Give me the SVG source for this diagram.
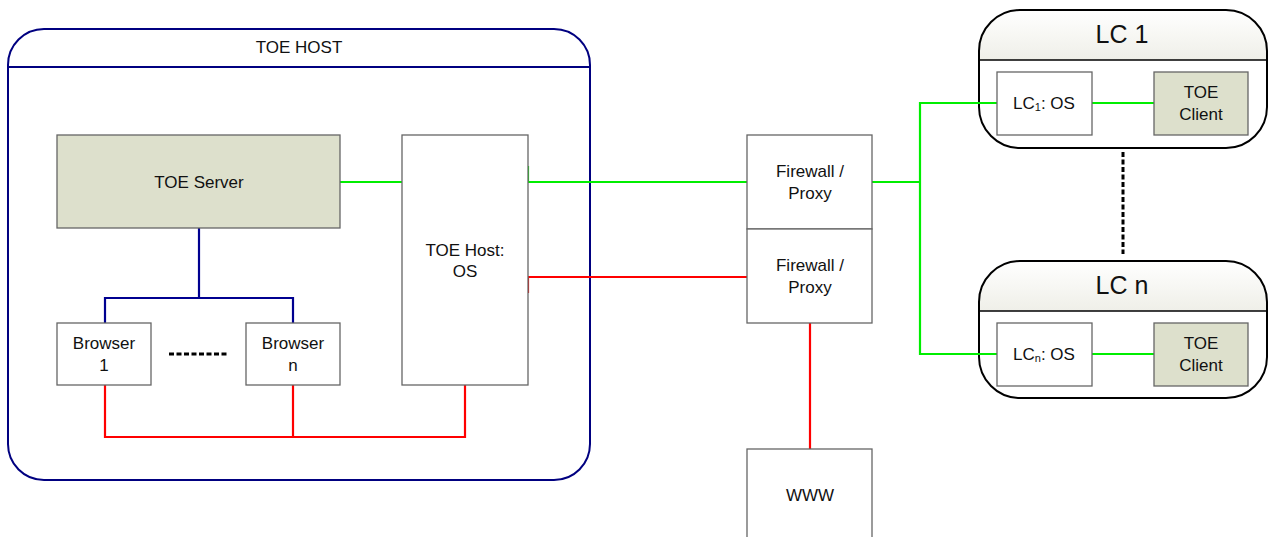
<svg xmlns="http://www.w3.org/2000/svg" width="1268" height="537" viewBox="0 0 1268 537">
<defs>
<style>
text{font-family:"Liberation Sans",Arial,sans-serif;fill:#111;text-anchor:middle;dominant-baseline:central}
.t{font-size:17px}
.big{font-size:25px}
.box{fill:#fff;stroke:#666;stroke-width:1.3}
.olive{fill:#dde0cc;stroke:#666;stroke-width:1.3}
.g{stroke:#00ee00;stroke-width:2.2;fill:none}
.r{stroke:#ff0000;stroke-width:2.2;fill:none}
.b{stroke:#000090;stroke-width:2.2;fill:none}
</style>
<linearGradient id="hdr" x1="0" y1="0" x2="0" y2="1">
<stop offset="0" stop-color="#ffffff"/>
<stop offset="1" stop-color="#efefe8"/>
</linearGradient>
</defs>
<rect width="1268" height="537" fill="#fff"/>

<g id="toe-host">
<rect x="8" y="29" width="582" height="451" rx="36" ry="36" fill="#fff" stroke="#000080" stroke-width="2"/>
<line x1="8" y1="67" x2="590" y2="67" stroke="#000080" stroke-width="2"/>
<text class="t" x="299" y="47">TOE HOST</text>
</g>

<g id="lc1">
<path d="M1020,10 H1226 A41,41 0 0 1 1267,51 V60 H979 V51 A41,41 0 0 1 1020,10 Z" fill="url(#hdr)"/>
<rect x="979" y="10" width="288" height="138" rx="41" ry="41" fill="none" stroke="#000" stroke-width="2"/>
<line x1="979" y1="60" x2="1267" y2="60" stroke="#000" stroke-width="1.5"/>
<text class="big" x="1122" y="34">LC 1</text>
</g>

<g id="lcn">
<path d="M1020,261 H1226 A41,41 0 0 1 1267,302 V311 H979 V302 A41,41 0 0 1 1020,261 Z" fill="url(#hdr)"/>
<rect x="979" y="261" width="288" height="137" rx="41" ry="41" fill="none" stroke="#000" stroke-width="2"/>
<line x1="979" y1="311" x2="1267" y2="311" stroke="#000" stroke-width="1.5"/>
<text class="big" x="1122" y="285">LC n</text>
</g>

<g id="connectors">
<line class="g" x1="340" y1="182" x2="402" y2="182"/>
<polyline class="g" points="528,166 528,182 747,182"/>
<polyline class="r" points="528,293 528,277 747,277"/>
<line class="b" x1="199" y1="228" x2="199" y2="298"/>
<polyline class="b" points="105,323 105,298 293,298 293,323"/>
<polyline class="r" points="105,385 105,437 465,437 465,385"/>
<line class="r" x1="293" y1="385" x2="293" y2="437"/>
<line class="r" x1="810" y1="323" x2="810" y2="449"/>
<line class="g" x1="872" y1="182" x2="920" y2="182"/>
<polyline class="g" points="998,103 920,103 920,354 998,354"/>
<line class="g" x1="1092" y1="103" x2="1154" y2="103"/>
<line class="g" x1="1092" y1="354" x2="1154" y2="354"/>
<line x1="169" y1="354" x2="228" y2="354" stroke="#000" stroke-width="3" stroke-dasharray="5,2.5"/>
<line x1="1123" y1="152" x2="1123" y2="254" stroke="#000" stroke-width="3" stroke-dasharray="5,2.5"/>
</g>

<g id="toe-server">
<rect class="olive" x="57" y="135" width="283" height="93"/>
<text class="t" x="199" y="182">TOE Server</text>
</g>
<g id="toe-host-os">
<rect class="box" x="402" y="135" width="126" height="250"/>
<text class="t" x="465" y="250">TOE Host:</text>
<text class="t" x="465" y="271">OS</text>
</g>
<g id="browser-1">
<rect class="box" x="57" y="323" width="94" height="62"/>
<text class="t" x="104" y="343">Browser</text>
<text class="t" x="104" y="365">1</text>
</g>
<g id="browser-n">
<rect class="box" x="246" y="323" width="94" height="62"/>
<text class="t" x="293" y="343">Browser</text>
<text class="t" x="293" y="365">n</text>
</g>
<g id="firewall-1">
<rect class="box" x="747" y="135" width="125" height="94"/>
<text class="t" x="810" y="171">Firewall /</text>
<text class="t" x="810" y="193">Proxy</text>
</g>
<g id="firewall-2">
<rect class="box" x="747" y="229" width="125" height="94"/>
<text class="t" x="810" y="265">Firewall /</text>
<text class="t" x="810" y="287">Proxy</text>
</g>
<g id="www">
<rect class="box" x="747" y="449" width="125" height="100"/>
<text class="t" x="810" y="495">WWW</text>
</g>
<g id="lc1-os">
<rect class="box" x="997" y="72" width="95" height="63"/>
<text class="t" x="1044" y="103">LC<tspan font-size="11" dy="4">1</tspan><tspan dy="-4">: OS</tspan></text>
</g>
<g id="lc1-client">
<rect class="olive" x="1154" y="72" width="94" height="63"/>
<text class="t" x="1201" y="92">TOE</text>
<text class="t" x="1201" y="114">Client</text>
</g>
<g id="lcn-os">
<rect class="box" x="997" y="323" width="95" height="63"/>
<text class="t" x="1044" y="354">LC<tspan font-size="11" dy="4">n</tspan><tspan dy="-4">: OS</tspan></text>
</g>
<g id="lcn-client">
<rect class="olive" x="1154" y="323" width="94" height="63"/>
<text class="t" x="1201" y="343">TOE</text>
<text class="t" x="1201" y="365">Client</text>
</g>
</svg>
